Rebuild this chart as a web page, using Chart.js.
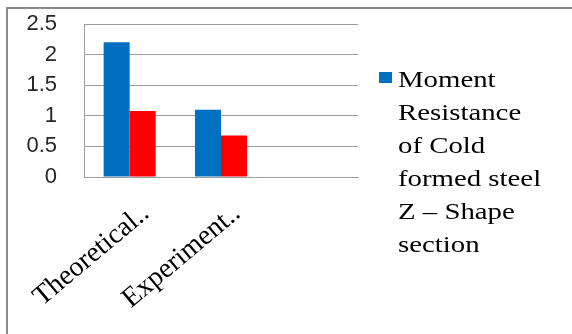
<!DOCTYPE html>
<html>
<head>
<meta charset="utf-8">
<script src="https://cdn.jsdelivr.net/npm/chart.js@4"></script>
<style>
  html, body { margin: 0; padding: 0; background: #ffffff; }
  #wrap { width: 572px; height: 334px; }
</style>
</head>
<body>
<div id="wrap"><canvas id="c" width="572" height="334"></canvas></div>
<script>
// Categories and series values
const categories = ['Theoretical..', 'Experiment..', ''];
const momentResistance = [2.2, 1.1, null];
const secondValues = [1.08, 0.68, null];
const yTicks = [0, 0.5, 1, 1.5, 2, 2.5];
const legendLines = ['Moment', 'Resistance', 'of Cold', 'formed steel', 'Z \u2013 Shape', 'section'];

const BLUE = '#0070C0';
const RED = '#FF0000';
const GRID = '#9c9c9c';

// Thin grey frame along the top and left edges of the figure
const framePlugin = {
  id: 'frame',
  beforeDraw(chart) {
    const ctx = chart.ctx;
    ctx.save();
    ctx.fillStyle = '#ffffff';
    ctx.fillRect(0, 0, chart.width, chart.height);
    ctx.fillStyle = '#8a8a8a';
    ctx.fillRect(6, 7, chart.width - 6, 2);
    ctx.fillRect(6, 7, 2, chart.height - 7);
    ctx.restore();
  }
};

// Legend with a wrapped, multi-line label for the first series
const wrappedLegend = {
  id: 'wrappedLegend',
  afterDraw(chart) {
    const ctx = chart.ctx;
    const ds = chart.data.datasets[0];
    const x0 = chart.chartArea.right + 21;
    ctx.save();
    ctx.fillStyle = ds.backgroundColor;
    ctx.fillRect(x0, 72, 13, 11);
    ctx.fillStyle = '#000000';
    ctx.font = '24px "Liberation Serif", "Times New Roman", serif';
    ctx.textBaseline = 'alphabetic';
    ctx.textAlign = 'left';
    legendLines.forEach((line, i) => {
      ctx.save();
      ctx.translate(x0 + 19, 87 + i * 33);
      ctx.scale(1.2, 1);
      ctx.fillText(line, 0, 0);
      ctx.restore();
    });
    ctx.restore();
  }
};

new Chart(document.getElementById('c'), {
  type: 'bar',
  data: {
    labels: categories,
    datasets: [
      {
        label: legendLines.join(' '),
        data: momentResistance,
        backgroundColor: BLUE,
        borderWidth: 0
      },
      {
        label: '',
        data: secondValues,
        backgroundColor: RED,
        borderWidth: 0
      }
    ]
  },
  options: {
    responsive: false,
    animation: false,
    devicePixelRatio: 1,
    layout: { padding: { top: 24, right: 214, left: 0, bottom: 0 } },
    datasets: { bar: { categoryPercentage: 0.57, barPercentage: 1 } },
    plugins: {
      legend: { display: false },
      tooltip: { enabled: false }
    },
    scales: {
      x: {
        grid: { display: false, drawTicks: false },
        border: { display: true, color: GRID, width: 1 },
        ticks: {
          autoSkip: false,
          minRotation: 40,
          maxRotation: 40,
          padding: 20,
          labelOffset: 16,
          color: '#000000',
          font: { family: '"Liberation Serif", "Times New Roman", serif', size: 28 }
        },
        afterFit(scale) {
          scale.height = 157;
          scale.paddingLeft = 0;
          scale.paddingRight = 0;
        }
      },
      y: {
        min: 0,
        max: 2.5,
        grid: { color: GRID, lineWidth: 1, drawTicks: false },
        border: { display: true, color: GRID, width: 1 },
        afterBuildTicks(scale) { scale.ticks = yTicks.map(v => ({ value: v })); },
        ticks: {
          autoSkip: false,
          padding: 27,
          color: '#262626',
          callback: (v) => String(v),
          font: { family: '"Liberation Sans", Arial, sans-serif', size: 22 }
        },
        afterFit(scale) {
          scale.width = 84;
          scale.paddingTop = 0;
          scale.paddingBottom = 0;
        }
      }
    }
  },
  plugins: [framePlugin, wrappedLegend]
});
</script>
</body>
</html>
